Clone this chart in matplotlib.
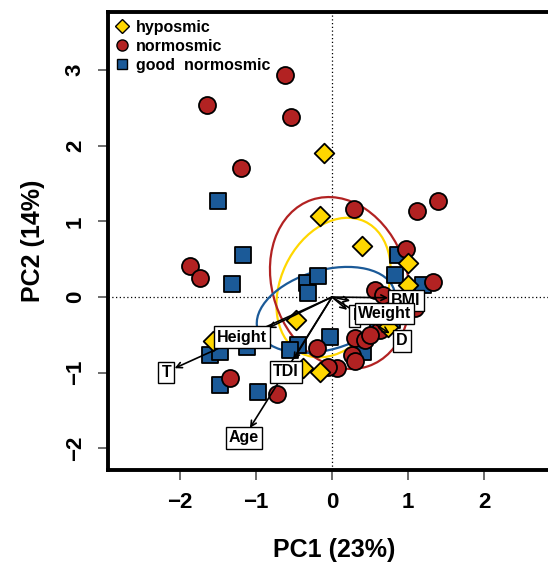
import matplotlib
matplotlib.use("Agg")
import matplotlib.pyplot as plt
from matplotlib.patches import Ellipse
import numpy as np

plt.rcParams['font.family'] = ['Liberation Sans', 'DejaVu Sans']

# PCA scores per group (PC1, PC2)
hypo_x = [-0.11, -0.16, 0.39, 1.00, 1.00, -0.47, -1.57, -0.16, -0.38, 0.74]
hypo_y = [1.90, 1.07, 0.67, 0.45, 0.16, -0.30, -0.58, -0.99, -0.94, -0.40]

normo_x = [-0.62, -1.64, -0.54, -1.20, 0.29, 1.12, 1.39, 0.97, -1.87, -1.74,
           1.33, 0.57, 0.67, 1.09, 0.63, 0.30, 0.43, -0.20, 0.26, 0.30,
           0.07, -0.05, -1.34, -0.72, 0.50]
normo_y = [2.93, 2.54, 2.38, 1.70, 1.16, 1.14, 1.27, 0.63, 0.41, 0.25,
           0.20, 0.09, 0.03, -0.15, -0.44, -0.54, -0.57, -0.67, -0.77, -0.85,
           -0.94, -0.92, -1.07, -1.28, -0.50]

good_x = [-1.50, -1.17, -1.32, -0.33, -0.18, -0.32, 0.87, 0.83, 1.20, -0.03,
          -0.45, -0.55, 0.61, 0.41, 0.79, -1.61, -1.47, -1.12, -1.47, -0.97,
          -0.58]
good_y = [1.27, 0.55, 0.17, 0.18, 0.28, 0.05, 0.55, 0.29, 0.16, -0.53,
          -0.63, -0.70, -0.41, -0.73, -0.30, -0.77, -0.73, -0.66, -1.16, -1.25,
          -1.03]

# group ellipses: center, width, height, angle
ell_cx = [0.02, 0.105, -0.08]
ell_cy = [0.125, 0.185, -0.17]
ell_w = [1.93, 1.78, 1.87]
ell_h = [1.39, 2.32, 1.05]
ell_ang = [64.8, 18.6, 16.2]

# variable loadings (arrow tips) and label positions
var_names = ['Height', 'T', 'TDI', 'Age', 'BMI', 'D', 'I', 'Weight']
load_x = [-0.84, -2.07, -0.51, -1.08, 0.74, 0.76, 0.20, 0.24]
load_y = [-0.41, -0.94, -0.83, -1.73, -0.01, -0.48, -0.17, -0.05]
lab_x = [-1.18, -2.18, -0.61, -1.16, 0.97, 0.92, 0.30, 0.69]
lab_y = [-0.53, -1.00, -0.99, -1.86, -0.05, -0.58, -0.25, -0.22]

groups = ['hyposmic', 'normosmic', 'good  normosmic']
colors = ['#FFD700', '#B22222', '#1B5A98']

fig = plt.figure(figsize=(5.48, 5.65), dpi=100)
ax = fig.add_axes([108 / 548, 1 - 470 / 565, 452 / 548, 458 / 565])
ax.set_xlim(-2.947, 3.0)
ax.set_ylim(-2.285, 3.765)

ax.axhline(0, color='black', linestyle=(0, (1, 2)), linewidth=0.9, zorder=1)
ax.axvline(0, color='black', linestyle=(0, (1, 2)), linewidth=0.9, zorder=1)

for i in range(3):
    ax.add_patch(Ellipse((ell_cx[i], ell_cy[i]), ell_w[i], ell_h[i], angle=ell_ang[i],
                         fill=False, edgecolor=colors[i], linewidth=1.6, zorder=2))

ax.scatter(good_x, good_y, marker='s', s=120, c=colors[2], edgecolors='black',
           linewidths=1.3, zorder=3)
ax.scatter(normo_x, normo_y, marker='o', s=150, c=colors[1], edgecolors='black',
           linewidths=1.3, zorder=3)
ax.scatter(hypo_x, hypo_y, marker='D', s=100, c=colors[0], edgecolors='black',
           linewidths=1.3, zorder=3)

for i in range(len(var_names)):
    ax.annotate('', xy=(load_x[i], load_y[i]), xytext=(0, 0),
                arrowprops=dict(arrowstyle='->', color='black', lw=1.2,
                                shrinkA=0, shrinkB=0, mutation_scale=10), zorder=4)
for i in range(len(var_names)):
    ax.text(lab_x[i], lab_y[i], var_names[i], ha='center', va='center',
            fontsize=11.5, fontweight='bold', zorder=5,
            bbox=dict(boxstyle='square,pad=0.2', fc='white', ec='black', lw=1))

# legend
lh = [plt.Line2D([], [], marker='D', ls='', ms=7, mfc=colors[0], mec='black', mew=1),
      plt.Line2D([], [], marker='o', ls='', ms=8, mfc=colors[1], mec='black', mew=1),
      plt.Line2D([], [], marker='s', ls='', ms=7, mfc=colors[2], mec='black', mew=1)]
ax.legend(lh, groups, loc='upper left', bbox_to_anchor=(0.0, 0.993), frameon=False,
          borderaxespad=0.1, borderpad=0.2, handletextpad=0.25, labelspacing=0.25,
          handlelength=1.2, prop={'weight': 'bold', 'size': 11.5})

for sp in ax.spines.values():
    sp.set_linewidth(2.8)

ax.set_xticks([-2, -1, 0, 1, 2])
ax.set_yticks([-2, -1, 0, 1, 2, 3])
ax.tick_params(length=7, width=1.1, color='#444444', pad=9, labelsize=16)
for t in ax.get_xticklabels() + ax.get_yticklabels():
    t.set_fontweight('bold')
for t in ax.get_yticklabels():
    t.set_rotation(90)
    t.set_va('center')

ax.set_xlabel('PC1 (23%)', fontsize=18, fontweight='bold', va='center')
ax.xaxis.set_label_coords(0.5, -0.175)
ax.set_ylabel('PC2 (14%)', fontsize=18, fontweight='bold', va='center')
ax.yaxis.set_label_coords(-0.166, 0.5)

fig.savefig('out.png', dpi=100)
